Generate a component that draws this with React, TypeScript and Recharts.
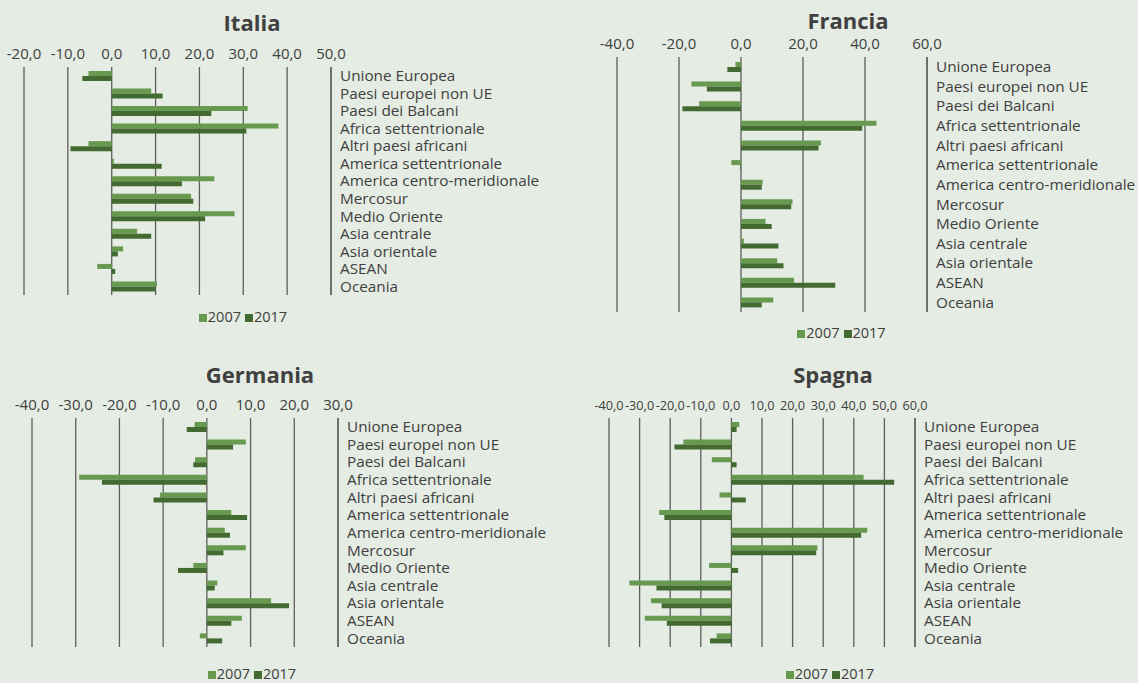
import React from 'react';
import { BarChart, Bar, XAxis, YAxis, CartesianGrid } from 'recharts';

const categories = [
  'Unione Europea',
  'Paesi europei non UE',
  'Paesi dei Balcani',
  'Africa settentrionale',
  'Altri paesi africani',
  'America settentrionale',
  'America centro-meridionale',
  'Mercosur',
  'Medio Oriente',
  'Asia centrale',
  'Asia orientale',
  'ASEAN',
  'Oceania',
];

const seriesNames = ['2007', '2017'];

const italia2007 = [-5.3, 9.0, 31.0, 38.0, -5.3, 0.5, 23.4, 18.1, 28.0, 5.8, 2.6, -3.3, 10.3];
const italia2017 = [-6.7, 11.6, 22.7, 30.7, -9.4, 11.4, 16.0, 18.6, 21.3, 9.0, 1.4, 0.8, 9.9];

const francia2007 = [-1.8, -16.0, -13.5, 43.7, 25.8, -3.1, 7.0, 16.6, 7.9, 0.9, 11.7, 17.1, 10.4];
const francia2017 = [-4.4, -11.0, -18.9, 39.1, 25.0, -0.2, 6.7, 16.2, 9.9, 12.1, 13.7, 30.4, 6.7];

const germania2007 = [-2.8, 8.9, -2.7, -29.2, -10.7, 5.6, 4.1, 8.9, -3.1, 2.4, 14.7, 8.0, -1.6];
const germania2017 = [-4.6, 6.0, -3.1, -24.0, -12.2, 9.2, 5.3, 3.8, -6.6, 1.8, 18.8, 5.6, 3.5];

const spagna2007 = [2.6, -15.7, -6.4, 43.2, -3.9, -23.6, 44.4, 28.1, -7.3, -33.3, -26.3, -28.3, -4.8];
const spagna2017 = [1.7, -18.6, 1.7, 53.2, 4.7, -21.9, 42.4, 27.7, 2.2, -24.5, -22.8, -21.1, -7.0];

const italiaTicks = [-20, -10, 0, 10, 20, 30, 40, 50];
const franciaTicks = [-40, -20, 0, 20, 40, 60];
const germaniaTicks = [-40, -30, -20, -10, 0, 10, 20, 30];
const spagnaTicks = [-40, -30, -20, -10, 0, 10, 20, 30, 40, 50, 60];

const COLOR_2007 = '#67994f';
const COLOR_2017 = '#436a30';
const BG = '#e5ece3';
const TEXT = '#404040';
const GRID = '#5e5e5e';
const FONT = '"Open Sans", "Noto Sans", sans-serif';

const fmt = (v: number) => v.toFixed(1).replace('.', ',');

type PanelProps = {
  title: string;
  v2007: number[];
  v2017: number[];
  ticks: number[];
  left: number;
  top: number;
  width: number;
  height: number;
  margin: { top: number; right: number; bottom: number; left: number };
  yWidth: number;
  titleX: number;
  titleY: number;
  legendX: number;
  legendY: number;
  tickFont: number;
};

function Panel(p: PanelProps) {
  const data = categories.map((name, i) => ({ name, a: p.v2007[i], b: p.v2017[i] }));
  return (
    <>
      <div
        style={{
          position: 'absolute',
          left: p.titleX - 150,
          top: p.titleY - 12,
          width: 300,
          height: 24,
          lineHeight: '24px',
          textAlign: 'center',
          fontFamily: FONT,
          fontWeight: 700,
          fontSize: 22,
          color: TEXT,
        }}
      >
        {p.title}
      </div>
      <div style={{ position: 'absolute', left: p.left, top: p.top }}>
        <BarChart
          width={p.width}
          height={p.height}
          data={data}
          layout="vertical"
          margin={p.margin}
          barGap={0}
          barSize={5}
        >
          <CartesianGrid horizontal={false} vertical={true} stroke={GRID} strokeWidth={1.3} />
          <XAxis
            type="number"
            orientation="top"
            domain={[p.ticks[0], p.ticks[p.ticks.length - 1]]}
            ticks={p.ticks}
            interval={0}
            tickFormatter={fmt}
            axisLine={false}
            tickLine={false}
            tickSize={0}
            tickMargin={8}
            height={25}
            tick={{ fill: TEXT, fontSize: p.tickFont, fontFamily: FONT }}
          />
          <YAxis
            type="category"
            dataKey="name"
            orientation="right"
            width={p.yWidth}
            interval={0}
            axisLine={{ stroke: GRID, strokeWidth: 1.3 }}
            tickLine={false}
            tickSize={0}
            tickMargin={9}
            tick={{ fill: TEXT, fontSize: 15.3, fontFamily: FONT }}
          />
          <Bar dataKey="a" name={seriesNames[0]} fill={COLOR_2007} isAnimationActive={false} />
          <Bar dataKey="b" name={seriesNames[1]} fill={COLOR_2017} isAnimationActive={false} />
        </BarChart>
      </div>
      <div
        style={{
          position: 'absolute',
          left: p.legendX - 100,
          top: p.legendY - 6.5,
          width: 200,
          height: 13,
          lineHeight: '13px',
          textAlign: 'center',
          fontFamily: FONT,
          fontSize: 14.5,
          color: TEXT,
          whiteSpace: 'nowrap',
        }}
      >
        <span style={{ display: 'inline-block', width: 8, height: 8, background: COLOR_2007, marginRight: 1 }} />
        {seriesNames[0]}
        <span style={{ display: 'inline-block', width: 8, height: 8, background: COLOR_2017, marginLeft: 4, marginRight: 1 }} />
        {seriesNames[1]}
      </div>
    </>
  );
}

export default function App() {
  return (
    <div
      style={{
        position: 'absolute',
        left: 0,
        top: 0,
        width: 1138,
        height: 683,
        background: BG,
        overflow: 'hidden',
      }}
    >
      <Panel
        title="Italia"
        v2007={italia2007}
        v2017={italia2017}
        ticks={italiaTicks}
        left={0}
        top={0}
        width={571}
        height={300}
        margin={{ top: 42, right: 0, bottom: 5, left: 24 }}
        yWidth={240}
        titleX={252}
        titleY={22}
        legendX={243}
        legendY={316}
        tickFont={15}
      />
      <Panel
        title="Francia"
        v2007={francia2007}
        v2017={francia2017}
        ticks={franciaTicks}
        left={580}
        top={0}
        width={558}
        height={317}
        margin={{ top: 32, right: 0, bottom: 5, left: 37 }}
        yWidth={211}
        titleX={848}
        titleY={20}
        legendX={841.5}
        legendY={332.5}
        tickFont={15}
      />
      <Panel
        title="Germania"
        v2007={germania2007}
        v2017={germania2017}
        ticks={germaniaTicks}
        left={0}
        top={340}
        width={571}
        height={312}
        margin={{ top: 53, right: 0, bottom: 5, left: 32 }}
        yWidth={233}
        titleX={260}
        titleY={374}
        legendX={252}
        legendY={673.5}
        tickFont={15}
      />
      <Panel
        title="Spagna"
        v2007={spagna2007}
        v2017={spagna2017}
        ticks={spagnaTicks}
        left={580}
        top={340}
        width={558}
        height={312}
        margin={{ top: 53, right: 0, bottom: 5, left: 29 }}
        yWidth={223}
        titleX={833}
        titleY={374}
        legendX={830}
        legendY={673.5}
        tickFont={12.7}
      />
    </div>
  );
}
